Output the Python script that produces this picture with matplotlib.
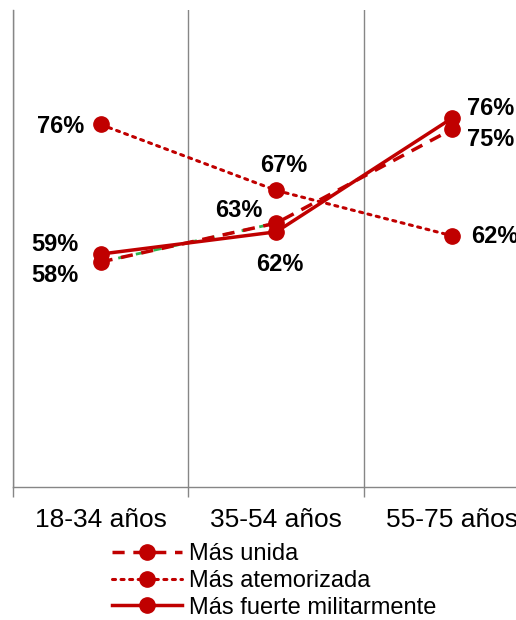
import matplotlib
matplotlib.use("Agg")
import matplotlib.pyplot as plt

plt.rcParams['font.family'] = ['Liberation Sans', 'DejaVu Sans']

# Data
categories = ['18-34 años', '35-54 años', '55-75 años']
mas_unida = [58.3, 63.2, 75.0]
mas_atemorizada = [75.6, 67.3, 61.6]
mas_fuerte = [59.3, 62.1, 76.4]

# label offsets in pixels (dx, dy, ha)
unida_offsets = [(-22, -13, 'right'), (-14, 13, 'right'), (15, -10, 'left')]
atemo_offsets = [(-16, -2, 'right'), (7, 25, 'center'), (19, -1, 'left')]
fuerte_offsets = [(-22, 10, 'right'), (3, -33, 'center'), (15, 10, 'left')]

red = '#C00000'
grey = '#868686'

fig = plt.figure(figsize=(5.16, 6.2), dpi=100)
ax = fig.add_axes([12.7 / 516, 133 / 620, 527.3 / 516, 477 / 620])

x = list(range(len(categories)))

# faint green dashed artefact under the first dashed segment
ax.plot(x[:2], mas_unida[:2], color='#2fb550', lw=2.0,
        dashes=(3, 3.5), dash_capstyle='butt', zorder=2)
ax.plot(x, mas_unida, color=red, lw=2.5, dashes=(3.5, 2.5),
        marker='o', ms=11, label='Más unida', zorder=3)
ax.plot(x, mas_atemorizada, color=red, lw=2.2, dashes=(1, 1.8),
        dash_capstyle='round', marker='o', ms=11,
        label='Más atemorizada', zorder=3)
ax.plot(x, mas_fuerte, color=red, lw=2.5, marker='o', ms=11,
        label='Más fuerte militarmente', zorder=4)

for vals, offs in [(mas_unida, unida_offsets),
                   (mas_atemorizada, atemo_offsets),
                   (mas_fuerte, fuerte_offsets)]:
    for xi, v, (dx, dy, ha) in zip(x, vals, offs):
        ax.annotate(f"{v:.0f}%", (xi, v), xytext=(dx, dy),
                    textcoords='offset pixels', ha=ha, va='center',
                    fontsize=17, fontweight='bold', color='black',
                    annotation_clip=False)

ax.set_xlim(-0.5, 2.5)
ax.set_ylim(30, 90)
ax.set_yticks([])
ax.set_xticks(x)
ax.set_xticklabels(categories, fontsize=19)
ax.set_xticks([-0.5, 0.5, 1.5, 2.5], minor=True)
ax.tick_params(axis='x', which='major', length=0, pad=15)
ax.tick_params(axis='x', which='minor', length=7, color=grey, width=1)
ax.grid(True, axis='x', which='minor', color=grey, lw=1)

for side in ['top', 'right']:
    ax.spines[side].set_visible(False)
for side in ['left', 'bottom']:
    ax.spines[side].set_color(grey)
    ax.spines[side].set_linewidth(1)

fig.legend(loc='center left', bbox_to_anchor=(112 / 516, 1 - 581 / 620),
           frameon=False, fontsize=17, handlelength=2.95, handletextpad=0.3,
           labelspacing=0.2, borderpad=0, borderaxespad=0)

fig.savefig('out.png', dpi=100)
